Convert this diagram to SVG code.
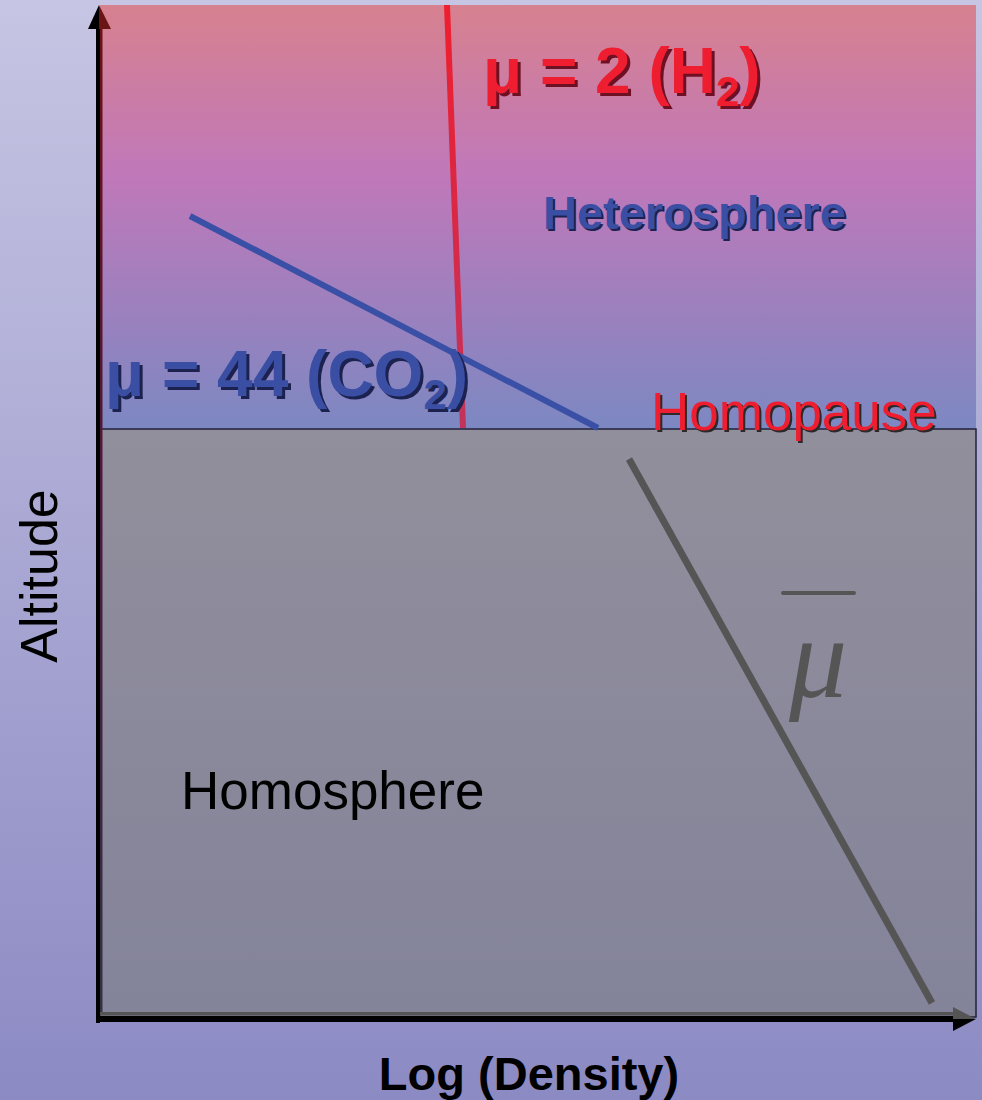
<svg xmlns="http://www.w3.org/2000/svg" width="982" height="1100" viewBox="0 0 982 1100">
<defs>
<linearGradient id="bg" x1="0" y1="0" x2="0" y2="1">
<stop offset="0" stop-color="#c6c5e3"/>
<stop offset="1" stop-color="#8c8ac3"/>
</linearGradient>
<linearGradient id="upper" x1="0" y1="0" x2="0" y2="1">
<stop offset="0" stop-color="#d7818f"/>
<stop offset="0.4" stop-color="#c078b9"/>
<stop offset="1" stop-color="#7c88c2"/>
</linearGradient>
<linearGradient id="lower" x1="0" y1="0" x2="0" y2="1">
<stop offset="0" stop-color="#928f9c"/>
<stop offset="1" stop-color="#83839a"/>
</linearGradient>
<linearGradient id="redline" gradientUnits="userSpaceOnUse" x1="447" y1="5" x2="463" y2="428">
<stop offset="0" stop-color="#f01e2e"/>
<stop offset="1" stop-color="#c2335c"/>
</linearGradient>
<linearGradient id="axisShade" x1="0" y1="0" x2="0" y2="1">
<stop offset="0" stop-color="#6a1414"/>
<stop offset="0.5" stop-color="#4a1a40"/>
<stop offset="1" stop-color="#333344"/>
</linearGradient>
</defs>
<style>
.bold{font-family:"Liberation Sans",Arial,sans-serif;font-weight:bold}
.reg{font-family:"Liberation Sans",Arial,sans-serif}
.red{fill:#ee1d2f}
.blue{fill:#3a4ea3}
.redsh{fill:#6e1024}
.bluesh{fill:#1c2250}
.sh{fill:#2a2a2a}
</style>
<rect x="0" y="0" width="982" height="1100" fill="url(#bg)"/>
<g id="heterosphere-region">
<rect x="100" y="5" width="876" height="424" fill="url(#upper)"/>
</g>
<g id="homosphere-region">
<rect x="100" y="429" width="876" height="588" fill="url(#lower)" stroke="#22223a" stroke-width="1.5"/>
</g>
<g id="connectors">
<line x1="447" y1="5" x2="463" y2="428" stroke="url(#redline)" stroke-width="6"/>
<line x1="190" y1="216" x2="598" y2="428" stroke="#3a4fa6" stroke-width="6"/>
<line x1="629" y1="459" x2="932" y2="1003" stroke="#555555" stroke-width="7"/>
</g>
<g id="axes">
<rect x="96" y="26" width="4" height="997" fill="#000"/>
<rect x="100" y="26" width="2.5" height="988" fill="url(#axisShade)"/>
<polygon points="99,5 88,29 99,29" fill="#000"/>
<polygon points="99,5 111,29 99,29" fill="#6a1414"/>
<rect x="96" y="1016" width="860" height="6" fill="#000"/>
<rect x="100" y="1012" width="856" height="3.5" fill="#555"/>
<polygon points="976,1019 953,1007 953,1019" fill="#555"/>
<polygon points="976,1019 953,1031 953,1019" fill="#000"/>
</g>
<g id="label-h2">
<text x="486" y="96" font-size="64" class="bold redsh">μ = 2 (H<tspan font-size="42" dy="13">2</tspan><tspan dy="-13">)</tspan></text>
<text x="483" y="93" font-size="64" class="bold red">μ = 2 (H<tspan font-size="42" dy="13">2</tspan><tspan dy="-13">)</tspan></text>
</g>
<g id="label-heterosphere">
<text x="545" y="231" font-size="47" class="bold bluesh">Heterosphere</text>
<text x="543" y="229" font-size="47" class="bold blue">Heterosphere</text>
</g>
<g id="label-co2">
<text x="108" y="399" font-size="64" class="bold bluesh">μ = 44 (CO<tspan font-size="42" dy="13">2</tspan><tspan dy="-13">)</tspan></text>
<text x="105" y="396" font-size="64" class="bold blue">μ = 44 (CO<tspan font-size="42" dy="13">2</tspan><tspan dy="-13">)</tspan></text>
</g>
<g id="label-homopause">
<text x="653" y="432" font-size="53" class="reg sh">Homopause</text>
<text x="651" y="430" font-size="53" class="reg red">Homopause</text>
</g>
<g id="label-homosphere">
<text x="181" y="809" font-size="53" class="reg" fill="#000">Homosphere</text>
</g>
<g id="label-mubar">
<line x1="783" y1="593" x2="854" y2="593" stroke="#555" stroke-width="4" stroke-linecap="round"/>
<text x="818" y="697" font-size="116" font-family="Liberation Serif,Times New Roman,serif" font-style="italic" fill="#555" text-anchor="middle">μ</text>
</g>
<g id="label-altitude">
<text transform="translate(57,576) rotate(-90)" font-size="52" class="reg" fill="#000" text-anchor="middle">Altitude</text>
</g>
<g id="label-density">
<text x="529" y="1090" font-size="47" class="bold" fill="#000" text-anchor="middle">Log (Density)</text>
</g>
</svg>
